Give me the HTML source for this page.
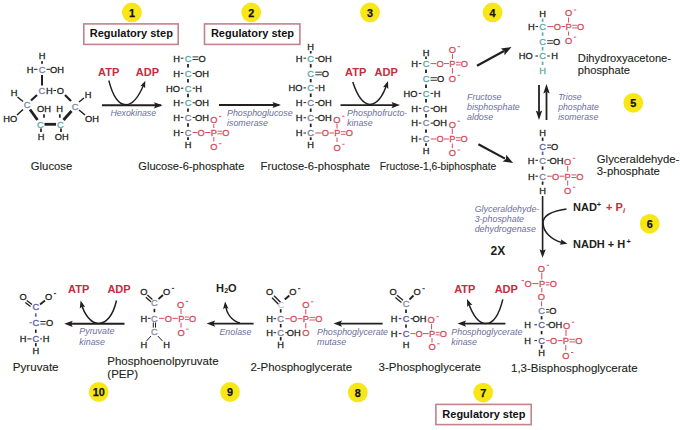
<!DOCTYPE html>
<html><head><meta charset="utf-8"><style>
html,body{margin:0;padding:0;background:#fff;width:680px;height:430px;overflow:hidden}
svg{display:block}
text{font-family:"Liberation Sans",sans-serif}
</style></head><body>
<svg width="680" height="430" viewBox="0 0 680 430">
<defs><filter id="glow" x="-50%" y="-50%" width="200%" height="200%"><feGaussianBlur stdDeviation="0.7"/></filter></defs>
<circle cx="131.9" cy="12.4" r="9.9" fill="#f8e714" filter="url(#glow)"/>
<text x="131.9" y="16.7" font-size="10.8" fill="#111" stroke="#111" stroke-width="0.25" text-anchor="middle" font-weight="bold" >1</text>
<circle cx="251.2" cy="12.4" r="9.9" fill="#f8e714" filter="url(#glow)"/>
<text x="251.2" y="16.7" font-size="10.8" fill="#111" stroke="#111" stroke-width="0.25" text-anchor="middle" font-weight="bold" >2</text>
<circle cx="370" cy="12.4" r="9.9" fill="#f8e714" filter="url(#glow)"/>
<text x="370.0" y="16.7" font-size="10.8" fill="#111" stroke="#111" stroke-width="0.25" text-anchor="middle" font-weight="bold" >3</text>
<circle cx="492.6" cy="12.4" r="9.9" fill="#f8e714" filter="url(#glow)"/>
<text x="492.6" y="16.7" font-size="10.8" fill="#111" stroke="#111" stroke-width="0.25" text-anchor="middle" font-weight="bold" >4</text>
<circle cx="633.3" cy="102.8" r="9.9" fill="#f8e714" filter="url(#glow)"/>
<text x="633.3" y="107.1" font-size="10.8" fill="#111" stroke="#111" stroke-width="0.25" text-anchor="middle" font-weight="bold" >5</text>
<circle cx="649.7" cy="223.8" r="9.9" fill="#f8e714" filter="url(#glow)"/>
<text x="649.7" y="228.1" font-size="10.8" fill="#111" stroke="#111" stroke-width="0.25" text-anchor="middle" font-weight="bold" >6</text>
<circle cx="483.2" cy="392.6" r="9.9" fill="#f8e714" filter="url(#glow)"/>
<text x="483.2" y="396.9" font-size="10.8" fill="#111" stroke="#111" stroke-width="0.25" text-anchor="middle" font-weight="bold" >7</text>
<circle cx="357.8" cy="392.4" r="9.9" fill="#f8e714" filter="url(#glow)"/>
<text x="357.8" y="396.7" font-size="10.8" fill="#111" stroke="#111" stroke-width="0.25" text-anchor="middle" font-weight="bold" >8</text>
<circle cx="230" cy="392" r="9.9" fill="#f8e714" filter="url(#glow)"/>
<text x="230.0" y="396.3" font-size="10.8" fill="#111" stroke="#111" stroke-width="0.25" text-anchor="middle" font-weight="bold" >9</text>
<circle cx="98.75" cy="392" r="9.9" fill="#f8e714" filter="url(#glow)"/>
<text x="98.8" y="396.3" font-size="10.8" fill="#111" stroke="#111" stroke-width="0.25" text-anchor="middle" font-weight="bold" >10</text>
<rect x="83.8" y="23.9" width="94.39999999999999" height="20.5" fill="#fff" stroke="#c4828a" stroke-width="1.6"/>
<text x="131.3" y="37.2" font-size="11" fill="#111" text-anchor="middle" font-weight="bold" >Regulatory step</text>
<rect x="204.5" y="23.9" width="95.39999999999998" height="20.5" fill="#fff" stroke="#c4828a" stroke-width="1.6"/>
<text x="252.5" y="37.2" font-size="11" fill="#111" text-anchor="middle" font-weight="bold" >Regulatory step</text>
<rect x="435.9" y="404.4" width="95.30000000000007" height="20.200000000000045" fill="#fff" stroke="#c4828a" stroke-width="1.6"/>
<text x="483.9" y="417.6" font-size="11" fill="#111" text-anchor="middle" font-weight="bold" >Regulatory step</text>
<text x="42.0" y="59.1" font-size="9.3" fill="#231f20" stroke="#231f20" stroke-width="0.3" text-anchor="middle" >H</text>
<line x1="42.0" y1="61.3" x2="42.0" y2="63.8" stroke="#231f20" stroke-width="1.8"/>
<text x="30.0" y="72.6" font-size="9.3" fill="#231f20" stroke="#231f20" stroke-width="0.3" text-anchor="middle" >H</text>
<text x="42.0" y="72.6" font-size="9.3" fill="#7a86a8" stroke="#7a86a8" stroke-width="0.3" text-anchor="middle" >C</text>
<text x="57.0" y="72.6" font-size="9.3" fill="#231f20" stroke="#231f20" stroke-width="0.3" text-anchor="middle" >OH</text>
<line x1="34.0" y1="69.3" x2="37.5" y2="69.3" stroke="#231f20" stroke-width="1"/>
<line x1="46.5" y1="69.3" x2="50.0" y2="69.3" stroke="#231f20" stroke-width="1"/>
<line x1="42.0" y1="75.0" x2="42.0" y2="85.5" stroke="#231f20" stroke-width="2"/>
<text x="41.9" y="93.8" font-size="9.3" fill="#7a86a8" stroke="#7a86a8" stroke-width="0.3" text-anchor="middle" >C</text>
<text x="49.3" y="93.8" font-size="9.3" fill="#231f20" stroke="#231f20" stroke-width="0.3" text-anchor="middle" >H</text>
<line x1="53.3" y1="90.5" x2="56.0" y2="90.5" stroke="#231f20" stroke-width="1"/>
<text x="60.3" y="93.8" font-size="9.3" fill="#231f20" stroke="#231f20" stroke-width="0.3" text-anchor="middle" >O</text>
<text x="14.0" y="96.3" font-size="9.3" fill="#231f20" stroke="#231f20" stroke-width="0.3" text-anchor="middle" >H</text>
<text x="27.0" y="108.1" font-size="9.3" fill="#7a86a8" stroke="#7a86a8" stroke-width="0.3" text-anchor="middle" >C</text>
<text x="10.3" y="122.3" font-size="9.3" fill="#231f20" stroke="#231f20" stroke-width="0.3" text-anchor="middle" >HO</text>
<text x="44.0" y="112.0" font-size="9.3" fill="#231f20" stroke="#231f20" stroke-width="0.3" text-anchor="middle" >OH</text>
<text x="59.6" y="112.3" font-size="9.3" fill="#231f20" stroke="#231f20" stroke-width="0.3" text-anchor="middle" >H</text>
<text x="75.0" y="109.8" font-size="9.3" fill="#7a86a8" stroke="#7a86a8" stroke-width="0.3" text-anchor="middle" >C</text>
<text x="88.0" y="98.0" font-size="9.3" fill="#231f20" stroke="#231f20" stroke-width="0.3" text-anchor="middle" >H</text>
<text x="92.0" y="122.3" font-size="9.3" fill="#231f20" stroke="#231f20" stroke-width="0.3" text-anchor="middle" >OH</text>
<text x="40.4" y="127.8" font-size="9.3" fill="#5aaca4" stroke="#5aaca4" stroke-width="0.3" text-anchor="middle" >C</text>
<text x="60.3" y="127.8" font-size="9.3" fill="#5aaca4" stroke="#5aaca4" stroke-width="0.3" text-anchor="middle" >C</text>
<text x="41.0" y="139.9" font-size="9.3" fill="#231f20" stroke="#231f20" stroke-width="0.3" text-anchor="middle" >H</text>
<text x="61.8" y="139.9" font-size="9.3" fill="#231f20" stroke="#231f20" stroke-width="0.3" text-anchor="middle" >OH</text>
<line x1="37.0" y1="95.0" x2="31.0" y2="100.5" stroke="#231f20" stroke-width="2.2"/>
<line x1="65.0" y1="95.0" x2="71.0" y2="101.0" stroke="#231f20" stroke-width="2.2"/>
<line x1="17.5" y1="97.0" x2="23.0" y2="101.5" stroke="#231f20" stroke-width="1.5"/>
<line x1="23.0" y1="109.5" x2="17.0" y2="115.0" stroke="#231f20" stroke-width="1.5"/>
<line x1="79.0" y1="102.0" x2="84.0" y2="98.0" stroke="#231f20" stroke-width="1.5"/>
<line x1="79.0" y1="110.0" x2="85.0" y2="115.0" stroke="#231f20" stroke-width="1.5"/>
<path d="M30,109.5 L37.5,120" stroke="#231f20" stroke-width="2.8" fill="none" />
<path d="M44.5,124.3 L56,124.3" stroke="#231f20" stroke-width="2.8" fill="none" />
<path d="M63.5,120 L71.5,111" stroke="#231f20" stroke-width="2.8" fill="none" />
<line x1="44.0" y1="114.3" x2="44.0" y2="117.7" stroke="#231f20" stroke-width="1.7"/>
<line x1="59.8" y1="114.3" x2="59.8" y2="117.7" stroke="#231f20" stroke-width="1.7"/>
<line x1="41.0" y1="128.6" x2="41.0" y2="131.9" stroke="#231f20" stroke-width="1.7"/>
<line x1="61.0" y1="128.6" x2="61.0" y2="131.9" stroke="#231f20" stroke-width="1.7"/>
<text x="188.0" y="61.5" font-size="9.3" fill="#5aaca4" stroke="#5aaca4" stroke-width="0.3" text-anchor="middle" >C</text>
<line x1="192.6" y1="56.9" x2="198.4" y2="56.9" stroke="#231f20" stroke-width="0.9"/>
<line x1="192.6" y1="59.5" x2="198.4" y2="59.5" stroke="#231f20" stroke-width="0.9"/>
<text x="202.0" y="61.5" font-size="9.3" fill="#231f20" stroke="#231f20" stroke-width="0.3" text-anchor="middle" >O</text>
<text x="176.5" y="61.5" font-size="9.3" fill="#231f20" stroke="#231f20" stroke-width="0.3" text-anchor="middle" >H</text>
<line x1="180.8" y1="58.2" x2="183.4" y2="58.2" stroke="#231f20" stroke-width="1"/>
<text x="176.5" y="76.7" font-size="9.3" fill="#231f20" stroke="#231f20" stroke-width="0.3" text-anchor="middle" >H</text>
<text x="188.0" y="76.7" font-size="9.3" fill="#5aaca4" stroke="#5aaca4" stroke-width="0.3" text-anchor="middle" >C</text>
<text x="202.0" y="76.7" font-size="9.3" fill="#231f20" stroke="#231f20" stroke-width="0.3" text-anchor="middle" >OH</text>
<line x1="180.8" y1="73.4" x2="183.4" y2="73.4" stroke="#231f20" stroke-width="1"/>
<line x1="192.6" y1="73.4" x2="195.2" y2="73.4" stroke="#231f20" stroke-width="1"/>
<text x="173.0" y="91.5" font-size="9.3" fill="#231f20" stroke="#231f20" stroke-width="0.3" text-anchor="middle" >HO</text>
<text x="188.0" y="91.5" font-size="9.3" fill="#5aaca4" stroke="#5aaca4" stroke-width="0.3" text-anchor="middle" >C</text>
<text x="198.5" y="91.5" font-size="9.3" fill="#231f20" stroke="#231f20" stroke-width="0.3" text-anchor="middle" >H</text>
<line x1="180.8" y1="88.2" x2="183.4" y2="88.2" stroke="#231f20" stroke-width="1"/>
<line x1="192.6" y1="88.2" x2="195.2" y2="88.2" stroke="#231f20" stroke-width="1"/>
<text x="176.5" y="106.1" font-size="9.3" fill="#231f20" stroke="#231f20" stroke-width="0.3" text-anchor="middle" >H</text>
<text x="188.0" y="106.1" font-size="9.3" fill="#5aaca4" stroke="#5aaca4" stroke-width="0.3" text-anchor="middle" >C</text>
<text x="202.0" y="106.1" font-size="9.3" fill="#231f20" stroke="#231f20" stroke-width="0.3" text-anchor="middle" >OH</text>
<line x1="180.8" y1="102.8" x2="183.4" y2="102.8" stroke="#231f20" stroke-width="1"/>
<line x1="192.6" y1="102.8" x2="195.2" y2="102.8" stroke="#231f20" stroke-width="1"/>
<text x="176.5" y="120.7" font-size="9.3" fill="#231f20" stroke="#231f20" stroke-width="0.3" text-anchor="middle" >H</text>
<text x="188.0" y="120.7" font-size="9.3" fill="#7d7f9a" stroke="#7d7f9a" stroke-width="0.3" text-anchor="middle" >C</text>
<text x="202.0" y="120.7" font-size="9.3" fill="#231f20" stroke="#231f20" stroke-width="0.3" text-anchor="middle" >OH</text>
<line x1="180.8" y1="117.4" x2="183.4" y2="117.4" stroke="#231f20" stroke-width="1"/>
<line x1="192.6" y1="117.4" x2="195.2" y2="117.4" stroke="#231f20" stroke-width="1"/>
<text x="176.5" y="135.8" font-size="9.3" fill="#231f20" stroke="#231f20" stroke-width="0.3" text-anchor="middle" >H</text>
<text x="188.0" y="135.8" font-size="9.3" fill="#7d7f9a" stroke="#7d7f9a" stroke-width="0.3" text-anchor="middle" >C</text>
<line x1="180.8" y1="132.5" x2="183.4" y2="132.5" stroke="#231f20" stroke-width="1"/>
<line x1="192.6" y1="132.5" x2="197.4" y2="132.5" stroke="#d44a5b" stroke-width="1"/>
<text x="201.2" y="135.8" font-size="9.3" fill="#d44a5b" stroke="#d44a5b" stroke-width="0.3" text-anchor="middle" >O</text>
<line x1="205.2" y1="132.5" x2="210.4" y2="132.5" stroke="#d44a5b" stroke-width="1"/>
<text x="213.8" y="135.8" font-size="9.3" fill="#d44a5b" stroke="#d44a5b" stroke-width="0.3" text-anchor="middle" >P</text>
<line x1="217.4" y1="131.2" x2="222.2" y2="131.2" stroke="#d44a5b" stroke-width="0.9"/>
<line x1="217.4" y1="133.8" x2="222.2" y2="133.8" stroke="#d44a5b" stroke-width="0.9"/>
<text x="225.8" y="135.8" font-size="9.3" fill="#d44a5b" stroke="#d44a5b" stroke-width="0.3" text-anchor="middle" >O</text>
<text x="213.8" y="122.9" font-size="9.3" fill="#d44a5b" stroke="#d44a5b" stroke-width="0.3" text-anchor="middle" >O</text>
<line x1="219.0" y1="116.6" x2="221.4" y2="116.6" stroke="#d44a5b" stroke-width="0.9"/>
<line x1="213.8" y1="124.0" x2="213.8" y2="128.0" stroke="#d44a5b" stroke-width="1"/>
<text x="213.8" y="150.0" font-size="9.3" fill="#d44a5b" stroke="#d44a5b" stroke-width="0.3" text-anchor="middle" >O</text>
<line x1="219.0" y1="143.7" x2="221.4" y2="143.7" stroke="#d44a5b" stroke-width="0.9"/>
<line x1="213.8" y1="137.0" x2="213.8" y2="141.5" stroke="#d44a5b" stroke-width="1"/>
<text x="188.0" y="148.1" font-size="9.3" fill="#231f20" stroke="#231f20" stroke-width="0.3" text-anchor="middle" >H</text>
<line x1="188.0" y1="64.1" x2="188.0" y2="67.5" stroke="#231f20" stroke-width="1.8"/>
<line x1="188.0" y1="79.1" x2="188.0" y2="82.5" stroke="#231f20" stroke-width="1.8"/>
<line x1="188.0" y1="93.8" x2="188.0" y2="97.2" stroke="#231f20" stroke-width="1.8"/>
<line x1="188.0" y1="108.4" x2="188.0" y2="111.8" stroke="#231f20" stroke-width="1.8"/>
<line x1="188.0" y1="123.2" x2="188.0" y2="126.7" stroke="#231f20" stroke-width="1.8"/>
<line x1="188.0" y1="137.3" x2="188.0" y2="140.0" stroke="#231f20" stroke-width="1.8"/>
<text x="310.7" y="50.3" font-size="9.3" fill="#231f20" stroke="#231f20" stroke-width="0.3" text-anchor="middle" >H</text>
<line x1="310.7" y1="51.0" x2="310.7" y2="53.5" stroke="#231f20" stroke-width="1.7"/>
<text x="299.2" y="61.5" font-size="9.3" fill="#231f20" stroke="#231f20" stroke-width="0.3" text-anchor="middle" >H</text>
<text x="310.7" y="61.5" font-size="9.3" fill="#5aaca4" stroke="#5aaca4" stroke-width="0.3" text-anchor="middle" >C</text>
<text x="324.7" y="61.5" font-size="9.3" fill="#231f20" stroke="#231f20" stroke-width="0.3" text-anchor="middle" >OH</text>
<line x1="303.5" y1="58.2" x2="306.1" y2="58.2" stroke="#231f20" stroke-width="1"/>
<line x1="315.3" y1="58.2" x2="317.9" y2="58.2" stroke="#231f20" stroke-width="1"/>
<text x="310.7" y="76.8" font-size="9.3" fill="#5aaca4" stroke="#5aaca4" stroke-width="0.3" text-anchor="middle" >C</text>
<line x1="315.3" y1="72.2" x2="321.8" y2="72.2" stroke="#231f20" stroke-width="0.9"/>
<line x1="315.3" y1="74.8" x2="321.8" y2="74.8" stroke="#231f20" stroke-width="0.9"/>
<text x="325.4" y="76.8" font-size="9.3" fill="#231f20" stroke="#231f20" stroke-width="0.3" text-anchor="middle" >O</text>
<text x="295.5" y="91.2" font-size="9.3" fill="#231f20" stroke="#231f20" stroke-width="0.3" text-anchor="middle" >HO</text>
<text x="310.7" y="91.2" font-size="9.3" fill="#5aaca4" stroke="#5aaca4" stroke-width="0.3" text-anchor="middle" >C</text>
<text x="321.5" y="91.2" font-size="9.3" fill="#231f20" stroke="#231f20" stroke-width="0.3" text-anchor="middle" >H</text>
<line x1="303.5" y1="87.9" x2="306.1" y2="87.9" stroke="#231f20" stroke-width="1"/>
<line x1="315.3" y1="87.9" x2="317.9" y2="87.9" stroke="#231f20" stroke-width="1"/>
<text x="299.2" y="105.9" font-size="9.3" fill="#231f20" stroke="#231f20" stroke-width="0.3" text-anchor="middle" >H</text>
<text x="310.7" y="105.9" font-size="9.3" fill="#7d7f9a" stroke="#7d7f9a" stroke-width="0.3" text-anchor="middle" >C</text>
<text x="324.7" y="105.9" font-size="9.3" fill="#231f20" stroke="#231f20" stroke-width="0.3" text-anchor="middle" >OH</text>
<line x1="303.5" y1="102.6" x2="306.1" y2="102.6" stroke="#231f20" stroke-width="1"/>
<line x1="315.3" y1="102.6" x2="317.9" y2="102.6" stroke="#231f20" stroke-width="1"/>
<text x="299.2" y="121.1" font-size="9.3" fill="#231f20" stroke="#231f20" stroke-width="0.3" text-anchor="middle" >H</text>
<text x="310.7" y="121.1" font-size="9.3" fill="#7d7f9a" stroke="#7d7f9a" stroke-width="0.3" text-anchor="middle" >C</text>
<text x="324.7" y="121.1" font-size="9.3" fill="#231f20" stroke="#231f20" stroke-width="0.3" text-anchor="middle" >OH</text>
<line x1="303.5" y1="117.8" x2="306.1" y2="117.8" stroke="#231f20" stroke-width="1"/>
<line x1="315.3" y1="117.8" x2="317.9" y2="117.8" stroke="#231f20" stroke-width="1"/>
<text x="299.2" y="136.3" font-size="9.3" fill="#231f20" stroke="#231f20" stroke-width="0.3" text-anchor="middle" >H</text>
<text x="310.7" y="136.3" font-size="9.3" fill="#7d7f9a" stroke="#7d7f9a" stroke-width="0.3" text-anchor="middle" >C</text>
<line x1="303.5" y1="133.0" x2="306.1" y2="133.0" stroke="#231f20" stroke-width="1"/>
<line x1="315.3" y1="133.0" x2="321.6" y2="133.0" stroke="#d44a5b" stroke-width="1"/>
<text x="325.4" y="136.3" font-size="9.3" fill="#d44a5b" stroke="#d44a5b" stroke-width="0.3" text-anchor="middle" >O</text>
<line x1="329.4" y1="133.0" x2="333.9" y2="133.0" stroke="#d44a5b" stroke-width="1"/>
<text x="337.3" y="136.3" font-size="9.3" fill="#d44a5b" stroke="#d44a5b" stroke-width="0.3" text-anchor="middle" >P</text>
<line x1="340.9" y1="131.7" x2="345.7" y2="131.7" stroke="#d44a5b" stroke-width="0.9"/>
<line x1="340.9" y1="134.3" x2="345.7" y2="134.3" stroke="#d44a5b" stroke-width="0.9"/>
<text x="349.3" y="136.3" font-size="9.3" fill="#d44a5b" stroke="#d44a5b" stroke-width="0.3" text-anchor="middle" >O</text>
<text x="336.8" y="122.6" font-size="9.3" fill="#d44a5b" stroke="#d44a5b" stroke-width="0.3" text-anchor="middle" >O</text>
<line x1="342.0" y1="116.3" x2="344.4" y2="116.3" stroke="#d44a5b" stroke-width="0.9"/>
<line x1="337.0" y1="123.5" x2="337.0" y2="128.5" stroke="#d44a5b" stroke-width="1"/>
<text x="337.0" y="150.6" font-size="9.3" fill="#d44a5b" stroke="#d44a5b" stroke-width="0.3" text-anchor="middle" >O</text>
<line x1="342.2" y1="144.3" x2="344.6" y2="144.3" stroke="#d44a5b" stroke-width="0.9"/>
<line x1="337.0" y1="137.5" x2="337.0" y2="142.0" stroke="#d44a5b" stroke-width="1"/>
<text x="310.7" y="147.6" font-size="9.3" fill="#231f20" stroke="#231f20" stroke-width="0.3" text-anchor="middle" >H</text>
<line x1="310.7" y1="64.1" x2="310.7" y2="67.5" stroke="#231f20" stroke-width="1.8"/>
<line x1="310.7" y1="79.0" x2="310.7" y2="82.4" stroke="#231f20" stroke-width="1.8"/>
<line x1="310.7" y1="93.5" x2="310.7" y2="97.0" stroke="#231f20" stroke-width="1.8"/>
<line x1="310.7" y1="108.5" x2="310.7" y2="111.9" stroke="#231f20" stroke-width="1.8"/>
<line x1="310.7" y1="123.7" x2="310.7" y2="127.1" stroke="#231f20" stroke-width="1.8"/>
<line x1="310.7" y1="137.3" x2="310.7" y2="140.0" stroke="#231f20" stroke-width="1.8"/>
<text x="426.0" y="55.8" font-size="9.3" fill="#231f20" stroke="#231f20" stroke-width="0.3" text-anchor="middle" >H</text>
<line x1="426.0" y1="56.5" x2="426.0" y2="59.0" stroke="#231f20" stroke-width="1.7"/>
<text x="414.7" y="66.9" font-size="9.3" fill="#231f20" stroke="#231f20" stroke-width="0.3" text-anchor="middle" >H</text>
<text x="426.0" y="66.9" font-size="9.3" fill="#5aaca4" stroke="#5aaca4" stroke-width="0.3" text-anchor="middle" >C</text>
<line x1="418.8" y1="63.6" x2="421.4" y2="63.6" stroke="#231f20" stroke-width="1"/>
<line x1="430.6" y1="63.6" x2="436.2" y2="63.6" stroke="#d44a5b" stroke-width="1"/>
<text x="440.0" y="66.9" font-size="9.3" fill="#d44a5b" stroke="#d44a5b" stroke-width="0.3" text-anchor="middle" >O</text>
<line x1="444.0" y1="63.6" x2="449.0" y2="63.6" stroke="#d44a5b" stroke-width="1"/>
<text x="452.4" y="66.9" font-size="9.3" fill="#d44a5b" stroke="#d44a5b" stroke-width="0.3" text-anchor="middle" >P</text>
<line x1="456.0" y1="62.3" x2="460.7" y2="62.3" stroke="#d44a5b" stroke-width="0.9"/>
<line x1="456.0" y1="64.9" x2="460.7" y2="64.9" stroke="#d44a5b" stroke-width="0.9"/>
<text x="464.3" y="66.9" font-size="9.3" fill="#d44a5b" stroke="#d44a5b" stroke-width="0.3" text-anchor="middle" >O</text>
<text x="452.4" y="53.0" font-size="9.3" fill="#d44a5b" stroke="#d44a5b" stroke-width="0.3" text-anchor="middle" >O</text>
<line x1="457.6" y1="46.7" x2="460.0" y2="46.7" stroke="#d44a5b" stroke-width="0.9"/>
<line x1="452.4" y1="54.0" x2="452.4" y2="59.0" stroke="#d44a5b" stroke-width="1"/>
<text x="452.4" y="81.6" font-size="9.3" fill="#d44a5b" stroke="#d44a5b" stroke-width="0.3" text-anchor="middle" >O</text>
<line x1="457.6" y1="75.3" x2="460.0" y2="75.3" stroke="#d44a5b" stroke-width="0.9"/>
<line x1="452.4" y1="68.0" x2="452.4" y2="73.5" stroke="#d44a5b" stroke-width="1"/>
<text x="426.0" y="82.3" font-size="9.3" fill="#5aaca4" stroke="#5aaca4" stroke-width="0.3" text-anchor="middle" >C</text>
<line x1="430.6" y1="77.7" x2="436.9" y2="77.7" stroke="#231f20" stroke-width="0.9"/>
<line x1="430.6" y1="80.3" x2="436.9" y2="80.3" stroke="#231f20" stroke-width="0.9"/>
<text x="440.5" y="82.3" font-size="9.3" fill="#231f20" stroke="#231f20" stroke-width="0.3" text-anchor="middle" >O</text>
<text x="410.5" y="96.7" font-size="9.3" fill="#231f20" stroke="#231f20" stroke-width="0.3" text-anchor="middle" >HO</text>
<text x="426.0" y="96.7" font-size="9.3" fill="#5aaca4" stroke="#5aaca4" stroke-width="0.3" text-anchor="middle" >C</text>
<text x="437.0" y="96.7" font-size="9.3" fill="#231f20" stroke="#231f20" stroke-width="0.3" text-anchor="middle" >H</text>
<line x1="418.8" y1="93.4" x2="421.4" y2="93.4" stroke="#231f20" stroke-width="1"/>
<line x1="430.6" y1="93.4" x2="433.2" y2="93.4" stroke="#231f20" stroke-width="1"/>
<text x="414.5" y="111.6" font-size="9.3" fill="#231f20" stroke="#231f20" stroke-width="0.3" text-anchor="middle" >H</text>
<text x="426.0" y="111.6" font-size="9.3" fill="#7d7f9a" stroke="#7d7f9a" stroke-width="0.3" text-anchor="middle" >C</text>
<text x="440.0" y="111.6" font-size="9.3" fill="#231f20" stroke="#231f20" stroke-width="0.3" text-anchor="middle" >OH</text>
<line x1="418.8" y1="108.3" x2="421.4" y2="108.3" stroke="#231f20" stroke-width="1"/>
<line x1="430.6" y1="108.3" x2="433.2" y2="108.3" stroke="#231f20" stroke-width="1"/>
<text x="414.5" y="126.4" font-size="9.3" fill="#231f20" stroke="#231f20" stroke-width="0.3" text-anchor="middle" >H</text>
<text x="426.0" y="126.4" font-size="9.3" fill="#7d7f9a" stroke="#7d7f9a" stroke-width="0.3" text-anchor="middle" >C</text>
<text x="440.0" y="126.4" font-size="9.3" fill="#231f20" stroke="#231f20" stroke-width="0.3" text-anchor="middle" >OH</text>
<line x1="418.8" y1="123.1" x2="421.4" y2="123.1" stroke="#231f20" stroke-width="1"/>
<line x1="430.6" y1="123.1" x2="433.2" y2="123.1" stroke="#231f20" stroke-width="1"/>
<text x="414.3" y="142.3" font-size="9.3" fill="#231f20" stroke="#231f20" stroke-width="0.3" text-anchor="middle" >H</text>
<text x="426.0" y="142.3" font-size="9.3" fill="#7d7f9a" stroke="#7d7f9a" stroke-width="0.3" text-anchor="middle" >C</text>
<line x1="418.8" y1="139.0" x2="421.4" y2="139.0" stroke="#231f20" stroke-width="1"/>
<line x1="430.6" y1="139.0" x2="436.2" y2="139.0" stroke="#d44a5b" stroke-width="1"/>
<text x="440.0" y="142.3" font-size="9.3" fill="#d44a5b" stroke="#d44a5b" stroke-width="0.3" text-anchor="middle" >O</text>
<line x1="444.0" y1="139.0" x2="448.9" y2="139.0" stroke="#d44a5b" stroke-width="1"/>
<text x="452.3" y="142.3" font-size="9.3" fill="#d44a5b" stroke="#d44a5b" stroke-width="0.3" text-anchor="middle" >P</text>
<line x1="455.9" y1="137.7" x2="460.6" y2="137.7" stroke="#d44a5b" stroke-width="0.9"/>
<line x1="455.9" y1="140.3" x2="460.6" y2="140.3" stroke="#d44a5b" stroke-width="0.9"/>
<text x="464.2" y="142.3" font-size="9.3" fill="#d44a5b" stroke="#d44a5b" stroke-width="0.3" text-anchor="middle" >O</text>
<text x="452.3" y="127.5" font-size="9.3" fill="#d44a5b" stroke="#d44a5b" stroke-width="0.3" text-anchor="middle" >O</text>
<line x1="457.5" y1="121.2" x2="459.9" y2="121.2" stroke="#d44a5b" stroke-width="0.9"/>
<line x1="452.3" y1="128.5" x2="452.3" y2="134.0" stroke="#d44a5b" stroke-width="1"/>
<text x="452.3" y="156.3" font-size="9.3" fill="#d44a5b" stroke="#d44a5b" stroke-width="0.3" text-anchor="middle" >O</text>
<line x1="457.5" y1="150.0" x2="459.9" y2="150.0" stroke="#d44a5b" stroke-width="0.9"/>
<line x1="452.3" y1="143.5" x2="452.3" y2="148.0" stroke="#d44a5b" stroke-width="1"/>
<text x="426.0" y="153.5" font-size="9.3" fill="#231f20" stroke="#231f20" stroke-width="0.3" text-anchor="middle" >H</text>
<line x1="426.0" y1="69.6" x2="426.0" y2="73.0" stroke="#231f20" stroke-width="1.8"/>
<line x1="426.0" y1="84.5" x2="426.0" y2="87.9" stroke="#231f20" stroke-width="1.8"/>
<line x1="426.0" y1="99.1" x2="426.0" y2="102.5" stroke="#231f20" stroke-width="1.8"/>
<line x1="426.0" y1="114.0" x2="426.0" y2="117.4" stroke="#231f20" stroke-width="1.8"/>
<line x1="426.0" y1="129.4" x2="426.0" y2="132.8" stroke="#231f20" stroke-width="1.8"/>
<line x1="426.0" y1="143.3" x2="426.0" y2="145.9" stroke="#231f20" stroke-width="1.8"/>
<text x="542.6" y="17.3" font-size="9.3" fill="#231f20" stroke="#231f20" stroke-width="0.3" text-anchor="middle" >H</text>
<line x1="542.6" y1="18.6" x2="542.6" y2="21.9" stroke="#5aaca4" stroke-width="1.7"/>
<text x="531.4" y="29.9" font-size="9.3" fill="#231f20" stroke="#231f20" stroke-width="0.3" text-anchor="middle" >H</text>
<text x="542.6" y="29.9" font-size="9.3" fill="#5aaca4" stroke="#5aaca4" stroke-width="0.3" text-anchor="middle" >C</text>
<line x1="535.4" y1="26.6" x2="538.0" y2="26.6" stroke="#231f20" stroke-width="1"/>
<line x1="547.2" y1="26.6" x2="553.6" y2="26.6" stroke="#d44a5b" stroke-width="1"/>
<text x="557.4" y="29.9" font-size="9.3" fill="#d44a5b" stroke="#d44a5b" stroke-width="0.3" text-anchor="middle" >O</text>
<line x1="561.4" y1="26.6" x2="565.2" y2="26.6" stroke="#d44a5b" stroke-width="1"/>
<text x="568.6" y="29.9" font-size="9.3" fill="#d44a5b" stroke="#d44a5b" stroke-width="0.3" text-anchor="middle" >P</text>
<line x1="572.2" y1="25.3" x2="577.1" y2="25.3" stroke="#d44a5b" stroke-width="0.9"/>
<line x1="572.2" y1="27.9" x2="577.1" y2="27.9" stroke="#d44a5b" stroke-width="0.9"/>
<text x="580.7" y="29.9" font-size="9.3" fill="#d44a5b" stroke="#d44a5b" stroke-width="0.3" text-anchor="middle" >O</text>
<text x="568.6" y="16.3" font-size="9.3" fill="#d44a5b" stroke="#d44a5b" stroke-width="0.3" text-anchor="middle" >O</text>
<line x1="573.8" y1="10.0" x2="576.2" y2="10.0" stroke="#d44a5b" stroke-width="0.9"/>
<line x1="568.6" y1="17.5" x2="568.6" y2="22.5" stroke="#d44a5b" stroke-width="1"/>
<text x="568.6" y="43.5" font-size="9.3" fill="#d44a5b" stroke="#d44a5b" stroke-width="0.3" text-anchor="middle" >O</text>
<line x1="573.8" y1="37.2" x2="576.2" y2="37.2" stroke="#d44a5b" stroke-width="0.9"/>
<line x1="568.6" y1="31.5" x2="568.6" y2="35.5" stroke="#d44a5b" stroke-width="1"/>
<text x="542.6" y="45.3" font-size="9.3" fill="#5aaca4" stroke="#5aaca4" stroke-width="0.3" text-anchor="middle" >C</text>
<line x1="547.2" y1="40.7" x2="552.9" y2="40.7" stroke="#231f20" stroke-width="0.9"/>
<line x1="547.2" y1="43.3" x2="552.9" y2="43.3" stroke="#231f20" stroke-width="0.9"/>
<text x="556.5" y="45.3" font-size="9.3" fill="#231f20" stroke="#231f20" stroke-width="0.3" text-anchor="middle" >O</text>
<text x="525.8" y="59.3" font-size="9.3" fill="#231f20" stroke="#231f20" stroke-width="0.3" text-anchor="middle" >HO</text>
<text x="542.6" y="59.3" font-size="9.3" fill="#5aaca4" stroke="#5aaca4" stroke-width="0.3" text-anchor="middle" >C</text>
<text x="554.7" y="59.3" font-size="9.3" fill="#231f20" stroke="#231f20" stroke-width="0.3" text-anchor="middle" >H</text>
<line x1="535.4" y1="56.0" x2="538.0" y2="56.0" stroke="#231f20" stroke-width="1"/>
<line x1="547.2" y1="56.0" x2="549.8" y2="56.0" stroke="#231f20" stroke-width="1"/>
<text x="542.6" y="74.1" font-size="9.3" fill="#5aaca4" stroke="#5aaca4" stroke-width="0.3" text-anchor="middle" >H</text>
<line x1="542.6" y1="32.4" x2="542.6" y2="35.8" stroke="#5aaca4" stroke-width="1.7"/>
<line x1="542.6" y1="47.1" x2="542.6" y2="50.5" stroke="#5aaca4" stroke-width="1.7"/>
<line x1="542.6" y1="61.6" x2="542.6" y2="65.0" stroke="#5aaca4" stroke-width="1.7"/>
<text x="542.6" y="136.1" font-size="9.3" fill="#231f20" stroke="#231f20" stroke-width="0.3" text-anchor="middle" >H</text>
<line x1="542.6" y1="137.6" x2="542.6" y2="140.9" stroke="#231f20" stroke-width="1.7"/>
<text x="542.6" y="149.7" font-size="9.3" fill="#5a5fa8" stroke="#5a5fa8" stroke-width="0.3" text-anchor="middle" >C</text>
<line x1="547.2" y1="145.1" x2="551.1" y2="145.1" stroke="#231f20" stroke-width="0.9"/>
<line x1="547.2" y1="147.7" x2="551.1" y2="147.7" stroke="#231f20" stroke-width="0.9"/>
<text x="554.7" y="149.7" font-size="9.3" fill="#231f20" stroke="#231f20" stroke-width="0.3" text-anchor="middle" >O</text>
<text x="531.1" y="163.6" font-size="9.3" fill="#231f20" stroke="#231f20" stroke-width="0.3" text-anchor="middle" >H</text>
<text x="542.6" y="163.6" font-size="9.3" fill="#7d7f9a" stroke="#7d7f9a" stroke-width="0.3" text-anchor="middle" >C</text>
<text x="556.4" y="163.6" font-size="9.3" fill="#231f20" stroke="#231f20" stroke-width="0.3" text-anchor="middle" >OH</text>
<line x1="535.4" y1="160.3" x2="538.0" y2="160.3" stroke="#231f20" stroke-width="1"/>
<line x1="547.2" y1="160.3" x2="549.8" y2="160.3" stroke="#231f20" stroke-width="1"/>
<text x="567.7" y="164.6" font-size="9.3" fill="#d44a5b" stroke="#d44a5b" stroke-width="0.3" text-anchor="middle" >O</text>
<line x1="572.9" y1="158.3" x2="575.3" y2="158.3" stroke="#d44a5b" stroke-width="0.9"/>
<line x1="567.7" y1="166.0" x2="567.7" y2="171.5" stroke="#d44a5b" stroke-width="1"/>
<text x="531.4" y="179.5" font-size="9.3" fill="#231f20" stroke="#231f20" stroke-width="0.3" text-anchor="middle" >H</text>
<text x="542.6" y="179.5" font-size="9.3" fill="#7d7f9a" stroke="#7d7f9a" stroke-width="0.3" text-anchor="middle" >C</text>
<line x1="535.4" y1="176.2" x2="538.0" y2="176.2" stroke="#231f20" stroke-width="1"/>
<line x1="547.2" y1="176.2" x2="551.8" y2="176.2" stroke="#d44a5b" stroke-width="1"/>
<text x="555.6" y="179.5" font-size="9.3" fill="#d44a5b" stroke="#d44a5b" stroke-width="0.3" text-anchor="middle" >O</text>
<line x1="559.6" y1="176.2" x2="564.3" y2="176.2" stroke="#d44a5b" stroke-width="1"/>
<text x="567.7" y="179.5" font-size="9.3" fill="#d44a5b" stroke="#d44a5b" stroke-width="0.3" text-anchor="middle" >P</text>
<line x1="571.3" y1="174.9" x2="576.2" y2="174.9" stroke="#d44a5b" stroke-width="0.9"/>
<line x1="571.3" y1="177.5" x2="576.2" y2="177.5" stroke="#d44a5b" stroke-width="0.9"/>
<text x="579.8" y="179.5" font-size="9.3" fill="#d44a5b" stroke="#d44a5b" stroke-width="0.3" text-anchor="middle" >O</text>
<text x="567.7" y="193.5" font-size="9.3" fill="#d44a5b" stroke="#d44a5b" stroke-width="0.3" text-anchor="middle" >O</text>
<line x1="572.9" y1="187.2" x2="575.3" y2="187.2" stroke="#d44a5b" stroke-width="0.9"/>
<line x1="567.7" y1="180.5" x2="567.7" y2="185.5" stroke="#d44a5b" stroke-width="1"/>
<text x="542.6" y="193.5" font-size="9.3" fill="#231f20" stroke="#231f20" stroke-width="0.3" text-anchor="middle" >H</text>
<line x1="542.6" y1="151.6" x2="542.6" y2="155.0" stroke="#5a5fa8" stroke-width="1.7"/>
<line x1="542.6" y1="166.4" x2="542.6" y2="169.8" stroke="#231f20" stroke-width="1.7"/>
<line x1="542.6" y1="181.5" x2="542.6" y2="184.8" stroke="#231f20" stroke-width="1.7"/>
<text x="541.4" y="271.6" font-size="9.3" fill="#d44a5b" stroke="#d44a5b" stroke-width="0.3" text-anchor="middle" >O</text>
<line x1="546.6" y1="265.3" x2="549.0" y2="265.3" stroke="#d44a5b" stroke-width="0.9"/>
<text x="528.2" y="286.9" font-size="9.3" fill="#d44a5b" stroke="#d44a5b" stroke-width="0.3" text-anchor="middle" >O</text>
<line x1="521.5" y1="280.6" x2="524.0" y2="280.6" stroke="#d44a5b" stroke-width="0.9"/>
<line x1="532.3" y1="283.6" x2="538.5" y2="283.6" stroke="#d44a5b" stroke-width="1"/>
<text x="542.1" y="286.9" font-size="9.3" fill="#d44a5b" stroke="#d44a5b" stroke-width="0.3" text-anchor="middle" >P</text>
<line x1="545.7" y1="282.3" x2="549.5" y2="282.3" stroke="#d44a5b" stroke-width="0.9"/>
<line x1="545.7" y1="284.9" x2="549.5" y2="284.9" stroke="#d44a5b" stroke-width="0.9"/>
<text x="553.3" y="286.9" font-size="9.3" fill="#d44a5b" stroke="#d44a5b" stroke-width="0.3" text-anchor="middle" >O</text>
<line x1="541.8" y1="272.7" x2="541.8" y2="279.5" stroke="#d44a5b" stroke-width="1"/>
<line x1="541.8" y1="288.0" x2="541.8" y2="292.5" stroke="#d44a5b" stroke-width="1"/>
<text x="541.4" y="300.2" font-size="9.3" fill="#d44a5b" stroke="#d44a5b" stroke-width="0.3" text-anchor="middle" >O</text>
<line x1="541.6" y1="301.3" x2="541.6" y2="306.3" stroke="#d44a5b" stroke-width="1"/>
<text x="541.6" y="314.1" font-size="9.3" fill="#7d7f9a" stroke="#7d7f9a" stroke-width="0.3" text-anchor="middle" >C</text>
<line x1="546.2" y1="309.5" x2="549.2" y2="309.5" stroke="#231f20" stroke-width="0.9"/>
<line x1="546.2" y1="312.1" x2="549.2" y2="312.1" stroke="#231f20" stroke-width="0.9"/>
<text x="552.8" y="314.1" font-size="9.3" fill="#231f20" stroke="#231f20" stroke-width="0.3" text-anchor="middle" >O</text>
<text x="527.7" y="328.1" font-size="9.3" fill="#231f20" stroke="#231f20" stroke-width="0.3" text-anchor="middle" >H</text>
<text x="541.6" y="328.1" font-size="9.3" fill="#5a5fa8" stroke="#5a5fa8" stroke-width="0.3" text-anchor="middle" >C</text>
<text x="555.2" y="328.1" font-size="9.3" fill="#231f20" stroke="#231f20" stroke-width="0.3" text-anchor="middle" >OH</text>
<line x1="534.4" y1="324.8" x2="537.0" y2="324.8" stroke="#231f20" stroke-width="1"/>
<line x1="546.2" y1="324.8" x2="548.8" y2="324.8" stroke="#231f20" stroke-width="1"/>
<text x="566.7" y="328.5" font-size="9.3" fill="#d44a5b" stroke="#d44a5b" stroke-width="0.3" text-anchor="middle" >O</text>
<line x1="571.9" y1="322.2" x2="574.3" y2="322.2" stroke="#d44a5b" stroke-width="0.9"/>
<line x1="566.0" y1="329.6" x2="566.0" y2="336.0" stroke="#d44a5b" stroke-width="1"/>
<text x="527.7" y="343.9" font-size="9.3" fill="#231f20" stroke="#231f20" stroke-width="0.3" text-anchor="middle" >H</text>
<text x="541.6" y="343.9" font-size="9.3" fill="#5a5fa8" stroke="#5a5fa8" stroke-width="0.3" text-anchor="middle" >C</text>
<line x1="534.4" y1="340.6" x2="537.0" y2="340.6" stroke="#231f20" stroke-width="1"/>
<line x1="546.2" y1="340.6" x2="549.9" y2="340.6" stroke="#d44a5b" stroke-width="1"/>
<text x="553.7" y="343.9" font-size="9.3" fill="#d44a5b" stroke="#d44a5b" stroke-width="0.3" text-anchor="middle" >O</text>
<line x1="557.7" y1="340.6" x2="562.4" y2="340.6" stroke="#d44a5b" stroke-width="1"/>
<text x="565.8" y="343.9" font-size="9.3" fill="#d44a5b" stroke="#d44a5b" stroke-width="0.3" text-anchor="middle" >P</text>
<line x1="569.4" y1="339.3" x2="575.2" y2="339.3" stroke="#d44a5b" stroke-width="0.9"/>
<line x1="569.4" y1="341.9" x2="575.2" y2="341.9" stroke="#d44a5b" stroke-width="0.9"/>
<text x="578.8" y="343.9" font-size="9.3" fill="#d44a5b" stroke="#d44a5b" stroke-width="0.3" text-anchor="middle" >O</text>
<text x="565.8" y="358.8" font-size="9.3" fill="#d44a5b" stroke="#d44a5b" stroke-width="0.3" text-anchor="middle" >O</text>
<line x1="571.0" y1="352.5" x2="573.4" y2="352.5" stroke="#d44a5b" stroke-width="0.9"/>
<line x1="565.8" y1="345.0" x2="565.8" y2="350.5" stroke="#d44a5b" stroke-width="1"/>
<text x="541.6" y="356.2" font-size="9.3" fill="#231f20" stroke="#231f20" stroke-width="0.3" text-anchor="middle" >H</text>
<line x1="541.6" y1="316.1" x2="541.6" y2="319.4" stroke="#231f20" stroke-width="1.7"/>
<line x1="541.6" y1="330.9" x2="541.6" y2="334.3" stroke="#231f20" stroke-width="1.7"/>
<line x1="541.6" y1="345.1" x2="541.6" y2="348.5" stroke="#231f20" stroke-width="1.7"/>
<text x="393.0" y="295.0" font-size="9.3" fill="#231f20" stroke="#231f20" stroke-width="0.3" text-anchor="middle" >O</text>
<text x="417.2" y="295.0" font-size="9.3" fill="#231f20" stroke="#231f20" stroke-width="0.3" text-anchor="middle" >O</text>
<line x1="422.4" y1="288.7" x2="424.8" y2="288.7" stroke="#231f20" stroke-width="0.9"/>
<text x="406.0" y="307.1" font-size="9.3" fill="#8a8c9c" stroke="#8a8c9c" stroke-width="0.3" text-anchor="middle" >C</text>
<line x1="397.0" y1="295.2" x2="403.0" y2="300.2" stroke="#231f20" stroke-width="1.3"/>
<line x1="395.4" y1="297.6" x2="401.4" y2="302.6" stroke="#231f20" stroke-width="1.3"/>
<line x1="413.5" y1="295.5" x2="409.5" y2="299.5" stroke="#231f20" stroke-width="1.8"/>
<text x="394.0" y="322.0" font-size="9.3" fill="#231f20" stroke="#231f20" stroke-width="0.3" text-anchor="middle" >H</text>
<text x="406.0" y="322.0" font-size="9.3" fill="#5a5fa8" stroke="#5a5fa8" stroke-width="0.3" text-anchor="middle" >C</text>
<text x="419.5" y="322.0" font-size="9.3" fill="#231f20" stroke="#231f20" stroke-width="0.3" text-anchor="middle" >OH</text>
<line x1="398.8" y1="318.7" x2="401.4" y2="318.7" stroke="#231f20" stroke-width="1"/>
<line x1="410.6" y1="318.7" x2="413.2" y2="318.7" stroke="#231f20" stroke-width="1"/>
<text x="431.2" y="323.0" font-size="9.3" fill="#d44a5b" stroke="#d44a5b" stroke-width="0.3" text-anchor="middle" >O</text>
<line x1="436.4" y1="316.7" x2="438.8" y2="316.7" stroke="#d44a5b" stroke-width="0.9"/>
<line x1="431.6" y1="324.0" x2="431.6" y2="329.5" stroke="#d44a5b" stroke-width="1"/>
<text x="394.0" y="336.9" font-size="9.3" fill="#231f20" stroke="#231f20" stroke-width="0.3" text-anchor="middle" >H</text>
<text x="406.0" y="336.9" font-size="9.3" fill="#5a5fa8" stroke="#5a5fa8" stroke-width="0.3" text-anchor="middle" >C</text>
<line x1="398.8" y1="333.6" x2="401.4" y2="333.6" stroke="#231f20" stroke-width="1"/>
<line x1="410.6" y1="333.6" x2="415.2" y2="333.6" stroke="#d44a5b" stroke-width="1"/>
<text x="419.0" y="336.9" font-size="9.3" fill="#d44a5b" stroke="#d44a5b" stroke-width="0.3" text-anchor="middle" >O</text>
<line x1="423.0" y1="333.6" x2="428.6" y2="333.6" stroke="#d44a5b" stroke-width="1"/>
<text x="432.0" y="336.9" font-size="9.3" fill="#d44a5b" stroke="#d44a5b" stroke-width="0.3" text-anchor="middle" >P</text>
<line x1="435.6" y1="332.3" x2="439.7" y2="332.3" stroke="#d44a5b" stroke-width="0.9"/>
<line x1="435.6" y1="334.9" x2="439.7" y2="334.9" stroke="#d44a5b" stroke-width="0.9"/>
<text x="443.3" y="336.9" font-size="9.3" fill="#d44a5b" stroke="#d44a5b" stroke-width="0.3" text-anchor="middle" >O</text>
<text x="432.0" y="350.1" font-size="9.3" fill="#d44a5b" stroke="#d44a5b" stroke-width="0.3" text-anchor="middle" >O</text>
<line x1="437.2" y1="343.8" x2="439.6" y2="343.8" stroke="#d44a5b" stroke-width="0.9"/>
<line x1="432.0" y1="338.0" x2="432.0" y2="342.5" stroke="#d44a5b" stroke-width="1"/>
<text x="406.0" y="348.2" font-size="9.3" fill="#231f20" stroke="#231f20" stroke-width="0.3" text-anchor="middle" >H</text>
<line x1="406.0" y1="309.6" x2="406.0" y2="312.9" stroke="#231f20" stroke-width="1.7"/>
<line x1="406.0" y1="324.4" x2="406.0" y2="327.8" stroke="#231f20" stroke-width="1.7"/>
<text x="269.5" y="295.0" font-size="9.3" fill="#231f20" stroke="#231f20" stroke-width="0.3" text-anchor="middle" >O</text>
<text x="292.8" y="295.0" font-size="9.3" fill="#231f20" stroke="#231f20" stroke-width="0.3" text-anchor="middle" >O</text>
<line x1="298.0" y1="288.7" x2="300.4" y2="288.7" stroke="#231f20" stroke-width="0.9"/>
<line x1="274.0" y1="295.8" x2="280.5" y2="302.3" stroke="#231f20" stroke-width="1.4"/>
<line x1="272.0" y1="297.8" x2="278.5" y2="304.3" stroke="#231f20" stroke-width="1.4"/>
<text x="281.0" y="307.9" font-size="9.3" fill="#b8bac6" text-anchor="middle" >C</text>
<line x1="289.3" y1="295.5" x2="284.8" y2="299.5" stroke="#231f20" stroke-width="2"/>
<line x1="280.7" y1="309.2" x2="280.7" y2="312.6" stroke="#231f20" stroke-width="1.7"/>
<text x="305.8" y="308.1" font-size="9.3" fill="#d44a5b" stroke="#d44a5b" stroke-width="0.3" text-anchor="middle" >O</text>
<line x1="311.0" y1="301.8" x2="313.4" y2="301.8" stroke="#d44a5b" stroke-width="0.9"/>
<line x1="305.8" y1="309.2" x2="305.8" y2="314.3" stroke="#d44a5b" stroke-width="1"/>
<text x="269.5" y="322.0" font-size="9.3" fill="#231f20" stroke="#231f20" stroke-width="0.3" text-anchor="middle" >H</text>
<text x="280.7" y="322.0" font-size="9.3" fill="#7d7f9a" stroke="#7d7f9a" stroke-width="0.3" text-anchor="middle" >C</text>
<line x1="273.5" y1="318.7" x2="276.1" y2="318.7" stroke="#231f20" stroke-width="1"/>
<line x1="285.3" y1="318.7" x2="289.9" y2="318.7" stroke="#d44a5b" stroke-width="1"/>
<text x="293.7" y="322.0" font-size="9.3" fill="#d44a5b" stroke="#d44a5b" stroke-width="0.3" text-anchor="middle" >O</text>
<line x1="297.7" y1="318.7" x2="302.4" y2="318.7" stroke="#d44a5b" stroke-width="1"/>
<text x="305.8" y="322.0" font-size="9.3" fill="#d44a5b" stroke="#d44a5b" stroke-width="0.3" text-anchor="middle" >P</text>
<line x1="309.4" y1="317.4" x2="315.2" y2="317.4" stroke="#d44a5b" stroke-width="0.9"/>
<line x1="309.4" y1="320.0" x2="315.2" y2="320.0" stroke="#d44a5b" stroke-width="0.9"/>
<text x="318.8" y="322.0" font-size="9.3" fill="#d44a5b" stroke="#d44a5b" stroke-width="0.3" text-anchor="middle" >O</text>
<text x="269.5" y="336.0" font-size="9.3" fill="#231f20" stroke="#231f20" stroke-width="0.3" text-anchor="middle" >H</text>
<text x="280.7" y="336.0" font-size="9.3" fill="#7d7f9a" stroke="#7d7f9a" stroke-width="0.3" text-anchor="middle" >C</text>
<text x="293.7" y="336.0" font-size="9.3" fill="#231f20" stroke="#231f20" stroke-width="0.3" text-anchor="middle" >OH</text>
<line x1="273.5" y1="332.7" x2="276.1" y2="332.7" stroke="#231f20" stroke-width="1"/>
<line x1="285.3" y1="332.7" x2="287.9" y2="332.7" stroke="#231f20" stroke-width="1"/>
<text x="305.8" y="336.0" font-size="9.3" fill="#d44a5b" stroke="#d44a5b" stroke-width="0.3" text-anchor="middle" >O</text>
<line x1="305.8" y1="323.0" x2="305.8" y2="328.3" stroke="#d44a5b" stroke-width="1"/>
<text x="280.7" y="348.2" font-size="9.3" fill="#231f20" stroke="#231f20" stroke-width="0.3" text-anchor="middle" >H</text>
<line x1="280.7" y1="324.0" x2="280.7" y2="327.4" stroke="#231f20" stroke-width="1.7"/>
<line x1="280.7" y1="337.1" x2="280.7" y2="340.5" stroke="#231f20" stroke-width="1.7"/>
<text x="143.8" y="294.7" font-size="9.3" fill="#231f20" stroke="#231f20" stroke-width="0.3" text-anchor="middle" >O</text>
<text x="166.6" y="294.7" font-size="9.3" fill="#231f20" stroke="#231f20" stroke-width="0.3" text-anchor="middle" >O</text>
<line x1="171.8" y1="288.4" x2="174.2" y2="288.4" stroke="#231f20" stroke-width="0.9"/>
<line x1="147.4" y1="295.0" x2="152.4" y2="299.5" stroke="#231f20" stroke-width="1.3"/>
<line x1="145.9" y1="297.2" x2="150.9" y2="301.7" stroke="#231f20" stroke-width="1.3"/>
<line x1="163.0" y1="295.0" x2="158.5" y2="299.0" stroke="#231f20" stroke-width="1.8"/>
<text x="154.4" y="306.1" font-size="9.3" fill="#8a8c9c" stroke="#8a8c9c" stroke-width="0.3" text-anchor="middle" >C</text>
<text x="180.5" y="307.7" font-size="9.3" fill="#d44a5b" stroke="#d44a5b" stroke-width="0.3" text-anchor="middle" >O</text>
<line x1="185.7" y1="301.4" x2="188.1" y2="301.4" stroke="#d44a5b" stroke-width="0.9"/>
<line x1="181.0" y1="308.8" x2="181.0" y2="314.0" stroke="#d44a5b" stroke-width="1"/>
<text x="143.8" y="321.6" font-size="9.3" fill="#231f20" stroke="#231f20" stroke-width="0.3" text-anchor="middle" >H</text>
<line x1="148.0" y1="318.3" x2="150.5" y2="318.3" stroke="#231f20" stroke-width="1"/>
<text x="154.4" y="321.6" font-size="9.3" fill="#8a8c9c" stroke="#8a8c9c" stroke-width="0.3" text-anchor="middle" >C</text>
<line x1="159.0" y1="318.3" x2="164.3" y2="318.3" stroke="#d44a5b" stroke-width="1"/>
<text x="168.3" y="321.6" font-size="9.3" fill="#d44a5b" stroke="#d44a5b" stroke-width="0.3" text-anchor="middle" >O</text>
<line x1="172.4" y1="318.3" x2="177.8" y2="318.3" stroke="#d44a5b" stroke-width="1"/>
<text x="181.3" y="321.6" font-size="9.3" fill="#d44a5b" stroke="#d44a5b" stroke-width="0.3" text-anchor="middle" >P</text>
<line x1="185.0" y1="317.0" x2="189.0" y2="317.0" stroke="#d44a5b" stroke-width="0.9"/>
<line x1="185.0" y1="319.6" x2="189.0" y2="319.6" stroke="#d44a5b" stroke-width="0.9"/>
<text x="192.7" y="321.6" font-size="9.3" fill="#d44a5b" stroke="#d44a5b" stroke-width="0.3" text-anchor="middle" >O</text>
<text x="181.0" y="335.5" font-size="9.3" fill="#d44a5b" stroke="#d44a5b" stroke-width="0.3" text-anchor="middle" >O</text>
<line x1="186.2" y1="329.2" x2="188.6" y2="329.2" stroke="#d44a5b" stroke-width="0.9"/>
<line x1="181.0" y1="322.6" x2="181.0" y2="327.6" stroke="#d44a5b" stroke-width="1"/>
<text x="154.4" y="335.3" font-size="9.3" fill="#8a8c9c" stroke="#8a8c9c" stroke-width="0.3" text-anchor="middle" >C</text>
<line x1="154.4" y1="308.8" x2="154.4" y2="312.2" stroke="#231f20" stroke-width="1.7"/>
<line x1="153.3" y1="322.5" x2="153.3" y2="327.6" stroke="#231f20" stroke-width="1"/>
<line x1="155.5" y1="322.5" x2="155.5" y2="327.6" stroke="#231f20" stroke-width="1"/>
<line x1="151.0" y1="336.0" x2="146.5" y2="341.0" stroke="#231f20" stroke-width="1"/>
<line x1="157.8" y1="336.0" x2="162.5" y2="341.0" stroke="#231f20" stroke-width="1"/>
<text x="143.8" y="348.3" font-size="9.3" fill="#231f20" stroke="#231f20" stroke-width="0.3" text-anchor="middle" >H</text>
<text x="166.6" y="348.3" font-size="9.3" fill="#231f20" stroke="#231f20" stroke-width="0.3" text-anchor="middle" >H</text>
<text x="23.0" y="299.9" font-size="9.3" fill="#231f20" stroke="#231f20" stroke-width="0.3" text-anchor="middle" >O</text>
<text x="48.6" y="299.9" font-size="9.3" fill="#231f20" stroke="#231f20" stroke-width="0.3" text-anchor="middle" >O</text>
<line x1="53.8" y1="293.6" x2="56.2" y2="293.6" stroke="#231f20" stroke-width="0.9"/>
<line x1="26.8" y1="300.4" x2="32.0" y2="304.4" stroke="#231f20" stroke-width="1.3"/>
<line x1="25.3" y1="302.6" x2="30.5" y2="306.6" stroke="#231f20" stroke-width="1.3"/>
<line x1="45.0" y1="300.5" x2="40.0" y2="304.5" stroke="#231f20" stroke-width="1.8"/>
<text x="35.8" y="310.2" font-size="9.3" fill="#5a5fa8" stroke="#5a5fa8" stroke-width="0.3" text-anchor="middle" >C</text>
<line x1="35.8" y1="313.3" x2="35.8" y2="316.7" stroke="#5a5fa8" stroke-width="1.7"/>
<line x1="29.5" y1="322.8" x2="31.8" y2="322.8" stroke="#5a5fa8" stroke-width="1"/>
<text x="35.8" y="326.1" font-size="9.3" fill="#5a5fa8" stroke="#5a5fa8" stroke-width="0.3" text-anchor="middle" >C</text>
<line x1="40.4" y1="321.5" x2="45.6" y2="321.5" stroke="#231f20" stroke-width="0.9"/>
<line x1="40.4" y1="324.1" x2="45.6" y2="324.1" stroke="#231f20" stroke-width="0.9"/>
<text x="49.6" y="326.1" font-size="9.3" fill="#231f20" stroke="#231f20" stroke-width="0.3" text-anchor="middle" >O</text>
<line x1="35.8" y1="329.6" x2="35.8" y2="332.9" stroke="#231f20" stroke-width="1.7"/>
<text x="23.0" y="342.2" font-size="9.3" fill="#231f20" stroke="#231f20" stroke-width="0.3" text-anchor="middle" >H</text>
<line x1="27.3" y1="338.9" x2="31.5" y2="338.9" stroke="#231f20" stroke-width="1"/>
<text x="35.8" y="342.2" font-size="9.3" fill="#5a5fa8" stroke="#5a5fa8" stroke-width="0.3" text-anchor="middle" >C</text>
<line x1="40.2" y1="338.9" x2="42.0" y2="338.9" stroke="#231f20" stroke-width="1"/>
<text x="46.0" y="342.2" font-size="9.3" fill="#231f20" stroke="#231f20" stroke-width="0.3" text-anchor="middle" >H</text>
<line x1="35.8" y1="343.1" x2="35.8" y2="346.4" stroke="#231f20" stroke-width="1.7"/>
<text x="35.8" y="353.7" font-size="9.3" fill="#231f20" stroke="#231f20" stroke-width="0.3" text-anchor="middle" >H</text>
<text x="30.8" y="169.7" font-size="11.3" fill="#231f20" text-anchor="start" stroke="#231f20" stroke-width="0.12">Glucose</text>
<text x="138.3" y="170.2" font-size="11.1" fill="#231f20" text-anchor="start" stroke="#231f20" stroke-width="0.12">Glucose-6-phosphate</text>
<text x="260.6" y="170.2" font-size="11.2" fill="#231f20" text-anchor="start" stroke="#231f20" stroke-width="0.12">Fructose-6-phosphate</text>
<text x="379.8" y="170.1" font-size="10.22" fill="#231f20" text-anchor="start" stroke="#231f20" stroke-width="0.12">Fructose-1,6-biphosphate</text>
<text x="577.8" y="62.2" font-size="11.2" fill="#231f20" text-anchor="start" stroke="#231f20" stroke-width="0.12">Dihydroxyacetone-</text>
<text x="577.8" y="74.4" font-size="11.2" fill="#231f20" text-anchor="start" stroke="#231f20" stroke-width="0.12">phosphate</text>
<text x="596.8" y="162.9" font-size="11.35" fill="#231f20" text-anchor="start" stroke="#231f20" stroke-width="0.12">Glyceraldehyde-</text>
<text x="596.8" y="175.2" font-size="11.35" fill="#231f20" text-anchor="start" stroke="#231f20" stroke-width="0.12">3-phosphate</text>
<text x="511" y="372" font-size="11.5" fill="#231f20" text-anchor="start" stroke="#231f20" stroke-width="0.12">1,3-Bisphosphoglycerate</text>
<text x="378.6" y="371.3" font-size="11.5" fill="#231f20" text-anchor="start" stroke="#231f20" stroke-width="0.12">3-Phosphoglycerate</text>
<text x="250.4" y="371.3" font-size="11.45" fill="#231f20" text-anchor="start" stroke="#231f20" stroke-width="0.12">2-Phosphoglycerate</text>
<text x="107.3" y="365.2" font-size="11.5" fill="#231f20" text-anchor="start" stroke="#231f20" stroke-width="0.12">Phosphoenolpyruvate</text>
<text x="107.3" y="377.8" font-size="11.5" fill="#231f20" text-anchor="start" stroke="#231f20" stroke-width="0.12">(PEP)</text>
<text x="12.8" y="371.4" font-size="11.6" fill="#231f20" text-anchor="start" stroke="#231f20" stroke-width="0.12">Pyruvate</text>
<text x="108.7" y="76.0" font-size="11" fill="#c82a3e" text-anchor="middle" font-weight="bold" >ATP</text>
<text x="147.4" y="76.0" font-size="11" fill="#c82a3e" text-anchor="middle" font-weight="bold" >ADP</text>
<path d="M102,105.3 L161,105.3" stroke="#231f20" stroke-width="1.9" fill="none" />
<path d="M162.5,105.3 L154.0,108.4 L155.5,105.3 L154.0,102.2 Z" fill="#231f20"/>
<path d="M108.8,80.5 C113,97 119,104.6 126,104.8 C133,104.6 139,96 143.6,85" stroke="#231f20" stroke-width="1.4" fill="none" />
<path d="M145.3,80.8 L145.1,88.3 L143.1,86.1 L140.3,86.3 Z" fill="#231f20"/>
<text x="110.4" y="116.0" font-size="8.75" fill="#6b6f9e" font-style="italic" >Hexokinase</text>
<path d="M219,105 L279,105" stroke="#231f20" stroke-width="1.9" fill="none" />
<path d="M281.0,105.0 L272.5,108.1 L274.0,105.0 L272.5,101.9 Z" fill="#231f20"/>
<text x="227.0" y="116.2" font-size="8.9" fill="#6b6f9e" font-style="italic" >Phosphoglucose</text>
<text x="227.0" y="126.2" font-size="8.9" fill="#6b6f9e" font-style="italic" >isomerase</text>
<text x="355.7" y="76.1" font-size="11" fill="#c82a3e" text-anchor="middle" font-weight="bold" >ATP</text>
<text x="386.2" y="76.1" font-size="11" fill="#c82a3e" text-anchor="middle" font-weight="bold" >ADP</text>
<path d="M340.5,105.1 L395,105.1" stroke="#231f20" stroke-width="1.9" fill="none" />
<path d="M400.0,105.1 L391.5,108.2 L393.0,105.1 L391.5,102.0 Z" fill="#231f20"/>
<path d="M352.8,82 C358,98 364,104.2 370,104.4 C377,104.2 383,96 386.5,85" stroke="#231f20" stroke-width="1.5" fill="none" />
<path d="M388.0,81.0 L388.3,89.0 L386.1,86.8 L383.0,87.3 Z" fill="#231f20"/>
<text x="347.1" y="116.0" font-size="8.9" fill="#6b6f9e" font-style="italic" >Phosphofructo-</text>
<text x="347.1" y="126.0" font-size="8.9" fill="#6b6f9e" font-style="italic" >kinase</text>
<path d="M477,65.8 L504,51" stroke="#231f20" stroke-width="2.2" fill="none" />
<path d="M511.5,47.1 L504.5,55.2 L504.3,51.0 L500.9,48.6 Z" fill="#231f20"/>
<path d="M478.4,144.3 L505,158.6" stroke="#231f20" stroke-width="2.2" fill="none" />
<path d="M513.2,162.9 L502.6,161.5 L506.0,159.0 L506.2,154.8 Z" fill="#231f20"/>
<text x="467.0" y="99.5" font-size="8.9" fill="#6b6f9e" font-style="italic" >Fructose</text>
<text x="467.0" y="109.5" font-size="8.9" fill="#6b6f9e" font-style="italic" >bisphosphate</text>
<text x="467.0" y="119.5" font-size="8.9" fill="#6b6f9e" font-style="italic" >aldose</text>
<path d="M539,85 L539,112" stroke="#231f20" stroke-width="1.8" fill="none" />
<path d="M539.0,120.0 L535.8,110.5 L539.0,112.2 L542.2,110.5 Z" fill="#231f20"/>
<path d="M546.5,120 L546.5,92" stroke="#231f20" stroke-width="1.8" fill="none" />
<path d="M546.5,84.0 L549.7,93.5 L546.5,91.8 L543.3,93.5 Z" fill="#231f20"/>
<text x="558.2" y="99.7" font-size="8.7" fill="#6b6f9e" font-style="italic" >Triose</text>
<text x="558.2" y="109.7" font-size="8.7" fill="#6b6f9e" font-style="italic" >phosphate</text>
<text x="558.2" y="119.7" font-size="8.7" fill="#6b6f9e" font-style="italic" >isomerase</text>
<path d="M542.6,196 L542.6,254" stroke="#231f20" stroke-width="1.6" fill="none" />
<path d="M542.6,257.8 L539.5,249.3 L542.6,250.8 L545.7,249.3 Z" fill="#231f20"/>
<path d="M566.5,209 C552,211 543,216 543,223 C543,232 552,240 562,242.6" stroke="#231f20" stroke-width="1.6" fill="none" />
<path d="M562,242.6 L563,242.9" stroke="#231f20" stroke-width="1.5" fill="none" />
<path d="M567.5,243.8 L559.5,244.7 L561.5,242.3 L560.9,239.3 Z" fill="#231f20"/>
<text x="474.7" y="212.2" font-size="8.9" fill="#6b6f9e" font-style="italic" >Glyceraldehyde-</text>
<text x="474.7" y="222.2" font-size="8.9" fill="#6b6f9e" font-style="italic" >3-phosphate</text>
<text x="474.7" y="232.2" font-size="8.9" fill="#6b6f9e" font-style="italic" >dehydrogenase</text>
<text x="573.0" y="211.0" font-size="11" fill="#231f20" font-weight="bold" >NAD</text>
<text x="596.8" y="207.0" font-size="7.5" fill="#231f20" font-weight="bold" >+</text>
<text x="606.0" y="211.0" font-size="11" fill="#c82a3e" font-weight="bold" >+ P</text>
<text x="623.0" y="212.7" font-size="7.5" fill="#c82a3e" font-weight="bold" font-style="italic" >i</text>
<text x="573.0" y="248.4" font-size="11" fill="#231f20" font-weight="bold" >NADH + H</text>
<text x="626.6" y="243.6" font-size="7.5" fill="#231f20" font-weight="bold" >+</text>
<text x="497.8" y="254.6" font-size="12" fill="#231f20" text-anchor="middle" font-weight="bold" >2X</text>
<text x="464.8" y="293.0" font-size="11" fill="#c82a3e" text-anchor="middle" font-weight="bold" >ATP</text>
<text x="506.3" y="293.0" font-size="11" fill="#c82a3e" text-anchor="middle" font-weight="bold" >ADP</text>
<path d="M505.4,323.6 L462,323.6" stroke="#231f20" stroke-width="1.9" fill="none" />
<path d="M457.5,323.6 L466.0,320.5 L464.5,323.6 L466.0,326.7 Z" fill="#231f20"/>
<path d="M502.8,299.4 C499,315 493,323.5 486,323.6 C478,323.5 472,313 468.5,303" stroke="#231f20" stroke-width="1.5" fill="none" />
<path d="M467.0,299.0 L472.4,304.9 L469.3,304.7 L467.2,307.0 Z" fill="#231f20"/>
<text x="451.3" y="334.9" font-size="8.9" fill="#6b6f9e" font-style="italic" >Phosphoglycerate</text>
<text x="451.3" y="344.5" font-size="8.9" fill="#6b6f9e" font-style="italic" >kinase</text>
<path d="M382.6,323.6 L337,323.6" stroke="#231f20" stroke-width="1.9" fill="none" />
<path d="M333.5,323.6 L342.0,320.5 L340.5,323.6 L342.0,326.7 Z" fill="#231f20"/>
<text x="317.0" y="335.2" font-size="8.9" fill="#6b6f9e" font-style="italic" >Phosphoglycerate</text>
<text x="317.0" y="344.7" font-size="8.9" fill="#6b6f9e" font-style="italic" >mutase</text>
<text x="220.0" y="291.6" font-size="11" fill="#231f20" text-anchor="middle" font-weight="bold" >H</text>
<text x="226.2" y="293.4" font-size="7.2" fill="#231f20" text-anchor="middle" font-weight="bold" >2</text>
<text x="232.4" y="291.6" font-size="11" fill="#231f20" text-anchor="middle" font-weight="bold" >O</text>
<path d="M253.6,323.6 L212,323.6" stroke="#231f20" stroke-width="1.9" fill="none" />
<path d="M206.6,323.6 L215.1,320.5 L213.6,323.6 L215.1,326.7 Z" fill="#231f20"/>
<path d="M240,323 C232,321 226.5,314 225.5,305" stroke="#231f20" stroke-width="1.5" fill="none" />
<path d="M225.1,301.5 L228.5,308.7 L225.6,307.6 L223.0,309.2 Z" fill="#231f20"/>
<text x="219.4" y="335.2" font-size="8.9" fill="#6b6f9e" font-style="italic" >Enolase</text>
<text x="78.7" y="293.0" font-size="11" fill="#c82a3e" text-anchor="middle" font-weight="bold" >ATP</text>
<text x="119.0" y="293.0" font-size="11" fill="#c82a3e" text-anchor="middle" font-weight="bold" >ADP</text>
<path d="M124.5,323.8 L70,323.8" stroke="#231f20" stroke-width="1.9" fill="none" />
<path d="M64.2,323.8 L72.7,320.7 L71.2,323.8 L72.7,326.9 Z" fill="#231f20"/>
<path d="M116.5,300.5 C113,316 106,323.3 98.5,323.4 C91,323.3 84,314 81.5,304" stroke="#231f20" stroke-width="1.5" fill="none" />
<path d="M80.6,300.5 L85.2,307.0 L82.2,306.4 L79.8,308.5 Z" fill="#231f20"/>
<text x="79.3" y="334.4" font-size="8.9" fill="#6b6f9e" font-style="italic" >Pyruvate</text>
<text x="79.3" y="344.6" font-size="8.9" fill="#6b6f9e" font-style="italic" >kinase</text>
</svg></body></html>
